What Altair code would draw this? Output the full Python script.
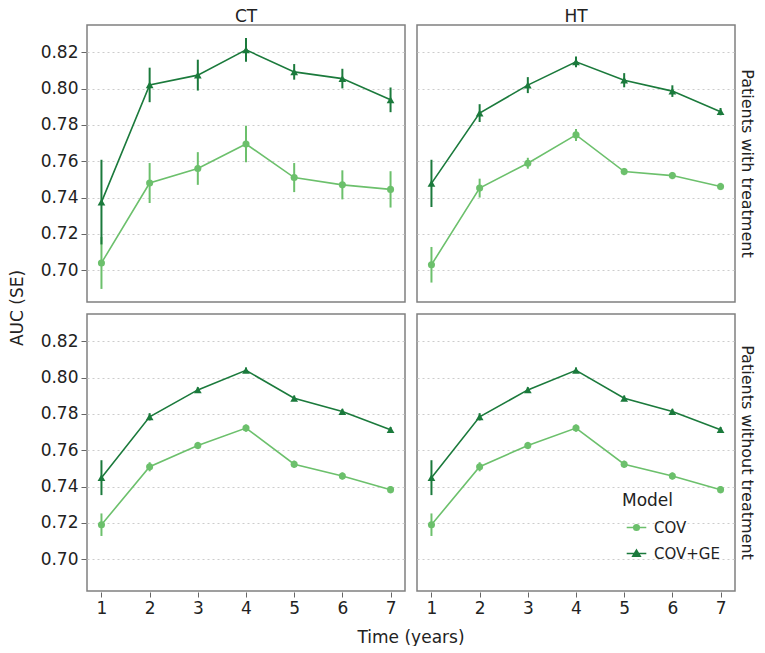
import altair as alt
import pandas as pd

times = [1, 2, 3, 4, 5, 6, 7]
treat_types = ["CT", "HT"]
groups = ["Patients with treatment", "Patients without treatment"]
models = ["COV", "COV+GE"]

ct_with_cov = [0.704, 0.748, 0.756, 0.7695, 0.751, 0.747, 0.7445]
ct_with_cov_se = [0.0143, 0.011, 0.009, 0.010, 0.008, 0.008, 0.010]
ct_with_ge = [0.7375, 0.802, 0.8074, 0.8213, 0.8092, 0.8055, 0.7938]
ct_with_ge_se = [0.0233, 0.0095, 0.0085, 0.0065, 0.0043, 0.0054, 0.0068]

ht_with_cov = [0.703, 0.7452, 0.7589, 0.7745, 0.7543, 0.7521, 0.7461]
ht_with_cov_se = [0.0098, 0.0052, 0.003, 0.0033, 0.002, 0.002, 0.002]
ht_with_ge = [0.7478, 0.7865, 0.8019, 0.8147, 0.8046, 0.7986, 0.7873]
ht_with_ge_se = [0.013, 0.0049, 0.0044, 0.003, 0.0039, 0.0032, 0.002]

ct_without_cov = [0.719, 0.7509, 0.7626, 0.7722, 0.7523, 0.7458, 0.7383]
ct_without_cov_se = [0.0062, 0.0025, 0.002, 0.002, 0.002, 0.002, 0.002]
ct_without_ge = [0.7449, 0.7784, 0.7932, 0.804, 0.7886, 0.7813, 0.7713]
ct_without_ge_se = [0.0096, 0.002, 0.0015, 0.0015, 0.0015, 0.0015, 0.0015]

ht_without_cov = [0.719, 0.7509, 0.7626, 0.7722, 0.7523, 0.7458, 0.7383]
ht_without_cov_se = [0.0062, 0.0025, 0.002, 0.002, 0.002, 0.002, 0.002]
ht_without_ge = [0.7449, 0.7784, 0.7932, 0.804, 0.7886, 0.7813, 0.7713]
ht_without_ge_se = [0.0096, 0.002, 0.0015, 0.0015, 0.0015, 0.0015, 0.0015]

series = [
    ("CT", groups[0], "COV", ct_with_cov, ct_with_cov_se),
    ("CT", groups[0], "COV+GE", ct_with_ge, ct_with_ge_se),
    ("HT", groups[0], "COV", ht_with_cov, ht_with_cov_se),
    ("HT", groups[0], "COV+GE", ht_with_ge, ht_with_ge_se),
    ("CT", groups[1], "COV", ct_without_cov, ct_without_cov_se),
    ("CT", groups[1], "COV+GE", ct_without_ge, ct_without_ge_se),
    ("HT", groups[1], "COV", ht_without_cov, ht_without_cov_se),
    ("HT", groups[1], "COV+GE", ht_without_ge, ht_without_ge_se),
]

rows = []
for tt, grp, mdl, vals, ses in series:
    for t, v, s in zip(times, vals, ses):
        rows.append({"type": tt, "group": grp, "Model": mdl, "time": t,
                     "auc": v, "lo": v - s, "hi": v + s})
df = pd.DataFrame(rows)

FONT = "DejaVu Sans"
colors = ["#6cc06c", "#1b7a3c"]
color_scale = alt.Scale(domain=models, range=colors)
# legend keys: a short line with the marker on it
legend_paths = [
    "M-1.6,0H1.6M-0.45,0A0.45,0.45,0,1,0,0.45,0A0.45,0.45,0,1,0,-0.45,0Z",
    "M-1.6,0H1.6M0,-0.55L0.6,0.45L-0.6,0.45Z",
]
legend_shape_scale = alt.Scale(domain=models, range=legend_paths)

x_enc = alt.X("time:Q", title=None,
              scale=alt.Scale(domain=[0.7, 7.3], nice=False, zero=False),
              axis=alt.Axis(values=times, format="d", grid=False))
y_enc = alt.Y("auc:Q", title=None,
              scale=alt.Scale(domain=[0.6825, 0.835], nice=False, zero=False),
              axis=alt.Axis(values=[0.70, 0.72, 0.74, 0.76, 0.78, 0.80, 0.82], format=".2f",
                            grid=True, gridDash=[2, 3], gridColor="#cccccc"))

base = alt.Chart()
col = alt.Color("Model:N", scale=color_scale)

lines = base.mark_line(strokeWidth=1.6).encode(x=x_enc, y=y_enc, color=col, detail="Model:N")
errs = base.mark_rule(strokeWidth=2).encode(x="time:Q", y="lo:Q", y2="hi:Q", color=col)
pts_cov = base.transform_filter(alt.datum.Model == "COV").mark_point(
    filled=True, opacity=1, size=50, shape="circle"
).encode(x="time:Q", y="auc:Q", color=col)
pts_ge = base.transform_filter(alt.datum.Model == "COV+GE").mark_point(
    filled=True, opacity=1, size=60, shape="triangle-up"
).encode(x="time:Q", y="auc:Q", color=col)

LEG = dict(title="Model", orient="none", legendX=535, legendY=468,
           symbolSize=150, symbolOffset=7, labelOffset=10, titlePadding=10,
           rowPadding=10, symbolStrokeWidth=1.6)
legend_layer = base.transform_filter("false").mark_point(
    filled=True, opacity=1, size=150, strokeWidth=1.6
).encode(
    x="time:Q", y="auc:Q",
    color=alt.Color("Model:N", scale=color_scale, legend=alt.Legend(**LEG)),
    stroke=alt.Stroke("Model:N", scale=color_scale, legend=alt.Legend(**LEG)),
    shape=alt.Shape("Model:N", scale=legend_shape_scale, legend=alt.Legend(**LEG)),
)

layered = alt.layer(lines, errs, pts_cov, pts_ge, legend_layer).properties(width=318, height=277)

chart = layered.facet(
    data=df,
    column=alt.Column("type:N", title="Time (years)", sort=treat_types,
                      header=alt.Header(labelOrient="top", titleOrient="bottom",
                                        labelFontSize=17, labelFont=FONT,
                                        labelColor="#222", labelPadding=-2,
                                        titleFontSize=17, titleFont=FONT,
                                        titleColor="#222", titleFontWeight="normal",
                                        titlePadding=4)),
    row=alt.Row("group:N", title="AUC (SE)", sort=groups,
                header=alt.Header(labelOrient="right", titleOrient="left", labelAngle=90,
                                  labelFontSize=16, labelFont=FONT, labelColor="#222",
                                  labelPadding=3, titleFontSize=17, titleFont=FONT,
                                  titleColor="#222", titleFontWeight="normal",
                                  titlePadding=3)),
    spacing=10,
).properties(
    padding=0
).configure_view(
    stroke="#808080", strokeWidth=1.5
).configure_axis(
    labelFont=FONT, labelFontSize=17, labelColor="#222",
    domain=False, tickColor="#666", tickSize=5, labelPadding=3,
).configure_legend(
    titleFont=FONT, labelFont=FONT,
    titleFontSize=17, labelFontSize=15, titleFontWeight="normal",
    labelColor="#222", titleColor="#222",
)

chart.save("out.html", embed_options={"renderer": "svg", "actions": False})
